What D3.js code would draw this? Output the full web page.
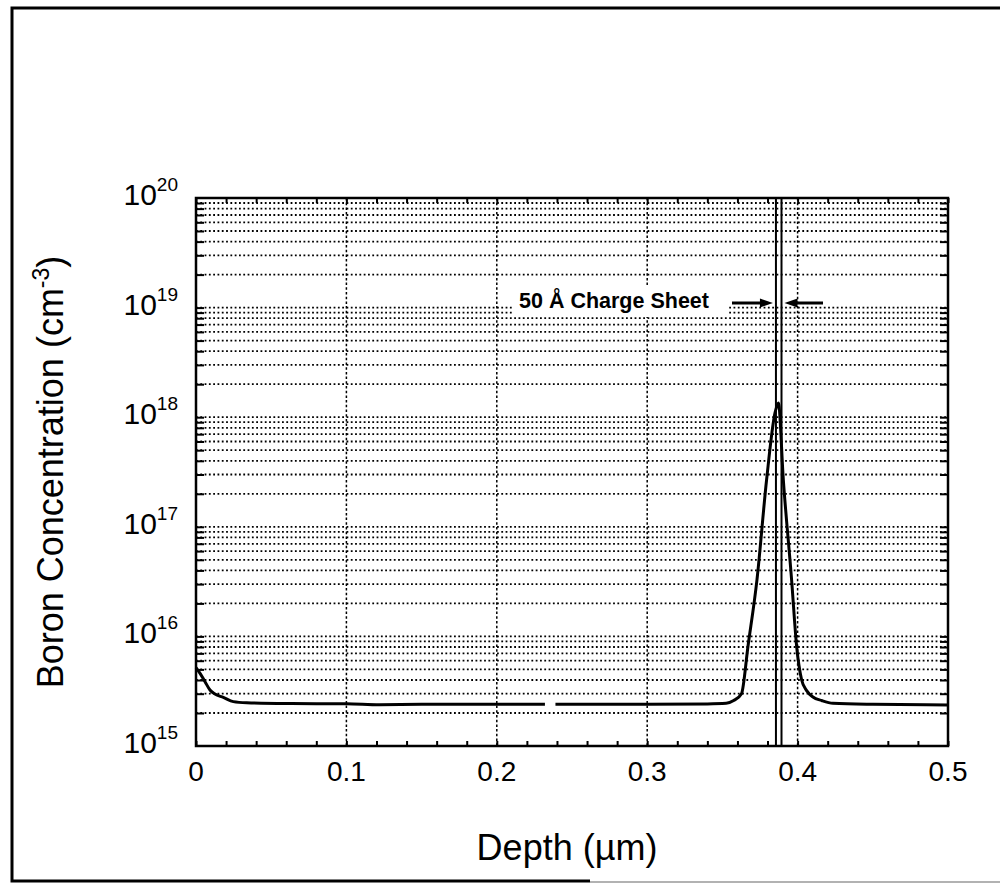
<!DOCTYPE html>
<html>
<head>
<meta charset="utf-8">
<script src="https://cdn.jsdelivr.net/npm/d3@7"></script>
<style>
  body { margin: 0; background: #fff; }
  svg { display: block; font-family: "Liberation Sans", Arial, Helvetica, sans-serif; }
  .grid line { stroke: #000; stroke-width: 1.8; stroke-dasharray: 1.8 2.5; }
  .vgrid line { stroke: #000; stroke-width: 1.5; stroke-dasharray: 2.5 2.2; }
  .ticks path { display: none; }
  .ticks line { stroke: #000; stroke-width: 2; }
</style>
</head>
<body>
<script>
// boron profile (depth in um, concentration in cm^-3)
var depth = [0, 0.0027, 0.006, 0.0093, 0.0126, 0.0182, 0.0248, 0.0337, 0.06, 0.1, 0.122, 0.15, 0.2, 0.232, 0.2355, 0.239,
  0.3, 0.34, 0.3525, 0.3575, 0.3627, 0.367, 0.373, 0.3794, 0.385, 0.3872, 0.3905, 0.396, 0.3994,
  0.4027, 0.406, 0.4102, 0.416, 0.4235, 0.45, 0.5];
var boron = [5.2e15, 4.6e15, 3.86e15, 3.24e15, 2.98e15, 2.78e15, 2.54e15, 2.48e15, 2.44e15, 2.43e15, 2.38e15, 2.4e15, 2.4e15, 2.4e15, null, 2.4e15,
  2.4e15, 2.42e15, 2.45e15, 2.6e15, 3.0e15, 8.1e15, 3.3e16, 2.7e17, 1.1e18, 1.35e18, 2.7e17, 3.3e16, 8.0e15,
  4.0e15, 3.2e15, 2.8e15, 2.6e15, 2.45e15, 2.4e15, 2.37e15];

// charge sheet edges (drawn wider than 50 A, as in the figure)
var sheetEdges = [0.3856, 0.3893];
var xTickLabels = [0, 0.1, 0.2, 0.3, 0.4, 0.5];
var xGrid = [0.1, 0.2, 0.3, 0.4];
var yExps = [15, 16, 17, 18, 19, 20];

var W = 1000, H = 884;
var svg = d3.select("body").append("svg").attr("width", W).attr("height", H);

var x = d3.scaleLinear().domain([0, 0.5]).range([196, 948]);
var y = d3.scaleLog().domain([1e15, 1e20]).range([746, 198]);

// outer frame (right side runs off the page)
svg.append("path").attr("d", "M1000,8H12V881H590")
  .attr("fill", "none").attr("stroke", "#000").attr("stroke-width", 3);
svg.append("line").attr("x1", 590).attr("x2", 1000).attr("y1", 882).attr("y2", 882)
  .attr("stroke", "#999").attr("stroke-width", 1.5);

// minor log values for gridlines
var yMinor = [];
for (var e = 15; e < 20; e++) {
  for (var k = 1; k <= 9; k++) {
    if (e === 15 && k === 1) continue;
    yMinor.push(k * Math.pow(10, e));
  }
}

svg.append("g").attr("class", "grid")
  .selectAll("line").data(yMinor).enter().append("line")
  .attr("x1", x(0)).attr("x2", x(0.5))
  .attr("y1", function(d){ return y(d); })
  .attr("y2", function(d){ return y(d); });

svg.append("g").attr("class", "vgrid")
  .selectAll("line").data(xGrid).enter().append("line")
  .attr("x1", function(d){ return x(d); }).attr("x2", function(d){ return x(d); })
  .attr("y1", y(1e20)).attr("y2", y(1e15));

// white box behind the annotation
svg.append("rect").attr("x", 513).attr("y", 287).attr("width", 214).attr("height", 30)
  .attr("fill", "#fff");

// tick marks, inward on all four sides
var xMinor = d3.range(0, 0.5001, 0.02);
svg.append("g").attr("class", "ticks")
  .attr("transform", "translate(0," + y(1e15) + ")")
  .call(d3.axisBottom(x).tickValues(xMinor).tickSize(-5).tickFormat(""));
svg.append("g").attr("class", "ticks")
  .attr("transform", "translate(0," + y(1e20) + ")")
  .call(d3.axisTop(x).tickValues(xMinor).tickSize(-5).tickFormat(""));
svg.append("g").attr("class", "ticks")
  .attr("transform", "translate(" + x(0) + ",0)")
  .call(d3.axisLeft(y).tickValues(yMinor).tickSize(-8).tickFormat(""));
svg.append("g").attr("class", "ticks")
  .attr("transform", "translate(" + x(0.5) + ",0)")
  .call(d3.axisRight(y).tickValues(yMinor).tickSize(-8).tickFormat(""));

// profile curve
var line = d3.line()
  .defined(function(d){ return d[1] != null; })
  .x(function(d){ return x(d[0]); })
  .y(function(d){ return y(d[1]); })
  .curve(d3.curveMonotoneX);

svg.append("path")
  .datum(depth.map(function(d, i){ return [d, boron[i]]; }))
  .attr("d", line)
  .attr("fill", "none").attr("stroke", "#000").attr("stroke-width", 3)
  .attr("stroke-linejoin", "round");

// charge sheet lines
svg.selectAll(".sheet").data(sheetEdges).enter().append("line")
  .attr("class", "sheet")
  .attr("x1", function(d){ return x(d); }).attr("x2", function(d){ return x(d); })
  .attr("y1", y(1e20)).attr("y2", y(1e15))
  .attr("stroke", "#000").attr("stroke-width", 2);

// plot border
svg.append("rect").attr("x", x(0)).attr("y", y(1e20))
  .attr("width", x(0.5) - x(0)).attr("height", y(1e15) - y(1e20))
  .attr("fill", "none").attr("stroke", "#000").attr("stroke-width", 2.5);

// annotation
svg.append("text").attr("x", 519).attr("y", 308)
  .attr("font-size", 21.5).attr("font-weight", "bold")
  .text("50 Å Charge Sheet");

var ay = 303;
var arrows = [
  [732, x(sheetEdges[0]) - 3],
  [823, x(sheetEdges[1]) + 3]
];
arrows.forEach(function(a){
  var dir = a[1] > a[0] ? 1 : -1;
  svg.append("line").attr("x1", a[0]).attr("x2", a[1] - dir * 10)
    .attr("y1", ay).attr("y2", ay)
    .attr("stroke", "#000").attr("stroke-width", 3);
  svg.append("path")
    .attr("d", "M" + a[1] + "," + ay + "L" + (a[1] - dir * 13) + "," + (ay - 4.5) +
      "L" + (a[1] - dir * 13) + "," + (ay + 4.5) + "Z")
    .attr("fill", "#000");
});

// x tick labels
svg.append("g").selectAll("text").data(xTickLabels).enter().append("text")
  .attr("x", function(d){ return x(d); }).attr("y", 781)
  .attr("text-anchor", "middle").attr("font-size", 28)
  .text(function(d){ return d === 0 ? "0" : d3.format(".1f")(d); });

// y tick labels: 10^n
var yl = svg.append("g").selectAll("text").data(yExps).enter().append("text")
  .attr("x", 178).attr("y", function(d){ return y(Math.pow(10, d)) + 7; })
  .attr("text-anchor", "end").attr("font-size", 30);
yl.append("tspan").text("10");
yl.append("tspan").attr("dy", -14).attr("font-size", 19).text(function(d){ return d; });

// axis titles
svg.append("text").attr("x", 567).attr("y", 860)
  .attr("text-anchor", "middle").attr("font-size", 36)
  .text("Depth (µm)");

var yt = svg.append("text")
  .attr("transform", "translate(63," + ((y(1e15) + y(1e20)) / 2) + ") rotate(-90)")
  .attr("text-anchor", "middle").attr("font-size", 36);
yt.append("tspan").text("Boron Concentration (cm");
yt.append("tspan").attr("dy", -14).attr("font-size", 23).text("-3");
yt.append("tspan").attr("dy", 14).text(")");
</script>
</body>
</html>
